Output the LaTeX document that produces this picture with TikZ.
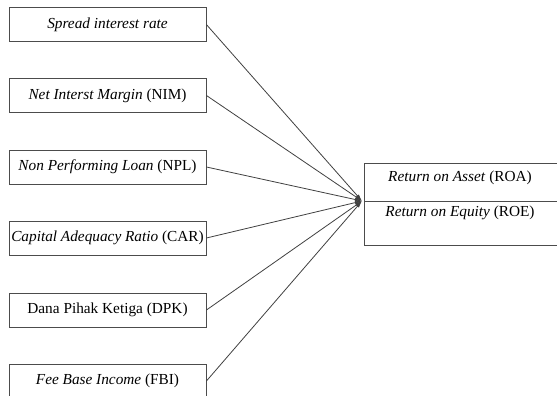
\documentclass[tikz,border=0pt]{standalone}
\usepackage{fontspec}
\setmainfont{Liberation Serif}
\usetikzlibrary{arrows.meta}

\begin{document}
\begin{tikzpicture}[x=1pt,y=-1pt,
		box/.style={draw=black!70,line width=0.9pt,minimum width=197pt,minimum height=34pt,inner sep=0pt,font=\fontsize{15.3}{17}\selectfont},
		lbl/.style={font=\fontsize{15.3}{17}\selectfont},
		conn/.style={draw=black!75,line width=0.8pt,-{Latex[length=7pt,width=4pt]}}]
			\useasboundingbox (0,0) rectangle (557,396);
			% factors on the left
			\node[box] (spread) at (107.5,24.6) {\textit{Spread interest rate}};
			\node[box] (nim) at (107.5,95.5) {\textit{Net Interst Margin} (NIM)};
			\node[box] (npl) at (107.5,167) {\textit{Non Performing Loan} (NPL)};
			\node[box] (car) at (107.5,238) {\textit{Capital Adequacy Ratio} (CAR)};
			\node[box] (dpk) at (107.5,310) {Dana Pihak Ketiga (DPK)};
			\node[box] (fbi) at (107.5,381) {\textit{Fee Base Income} (FBI)};

			% profitability box on the right
			\draw[draw=black!70,line width=0.9pt] (364,163) rectangle (600,245);
			\draw[draw=black!70,line width=0.9pt] (364,201) -- (600,201);
			\node[lbl] (roa) at (460,178) {\textit{Return on Asset} (ROA)};
			\node[lbl] (roe) at (460,213) {\textit{Return on Equity} (ROE)};
			\coordinate (hub) at (362,201);

			\foreach \n in {spread,nim,npl,car,dpk,fbi}
				\draw[conn] (\n.east) -- (hub);
		\end{tikzpicture}
\end{document}
